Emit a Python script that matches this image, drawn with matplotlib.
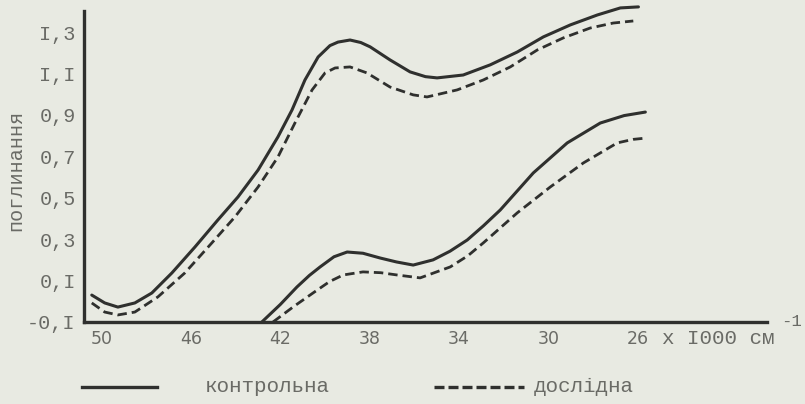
"""Absorption spectra: control vs experimental samples (typewritten figure)."""

import matplotlib
matplotlib.use("Agg")
import matplotlib.pyplot as plt
from matplotlib.lines import Line2D

# ---------------------------------------------------------------------------
# Data (wavenumber x1000 cm^-1, absorbance)
# ---------------------------------------------------------------------------

upper_ctrl_x = [50.45, 49.87, 49.28, 48.52, 47.76, 46.86, 45.83, 44.80, 43.90,
                43.00, 42.11, 41.48, 40.90, 40.31, 39.78, 39.42, 38.88, 38.40,
                37.98, 37.09, 36.19, 35.50, 34.98, 33.81, 32.60, 31.39, 30.22,
                29.01, 27.80, 26.77, 25.96]
upper_ctrl_y = [0.030, -0.008, -0.028, -0.008, 0.040, 0.137, 0.262, 0.393, 0.504,
                0.634, 0.794, 0.924, 1.069, 1.180, 1.235, 1.252, 1.262, 1.250,
                1.229, 1.166, 1.108, 1.085, 1.079, 1.093, 1.142, 1.204, 1.277,
                1.335, 1.383, 1.417, 1.422]

upper_exp_x = [50.45, 49.87, 49.28, 48.52, 47.49, 46.28, 45.07, 44.04, 43.00,
               42.11, 41.35, 40.58, 40.00, 39.55, 38.88, 38.12, 37.09, 36.05,
               35.43, 34.08, 32.91, 31.70, 30.49, 29.33, 28.12, 27.09, 26.19]
upper_exp_y = [-0.008, -0.052, -0.066, -0.052, 0.021, 0.137, 0.282, 0.407, 0.552,
               0.697, 0.861, 1.021, 1.103, 1.127, 1.132, 1.103, 1.035, 0.997,
               0.987, 1.021, 1.069, 1.132, 1.214, 1.272, 1.320, 1.344, 1.354]

lower_ctrl_x = [42.83, 42.0, 41.26, 40.7, 40.22, 39.6, 39.01, 38.3, 37.53, 36.8,
                36.05, 35.16, 34.4, 33.63, 32.9, 32.15, 30.67, 29.15, 27.67,
                26.6, 25.65]
lower_ctrl_y = [-0.100, -0.015, 0.069, 0.125, 0.166, 0.215, 0.238, 0.232, 0.209,
                0.190, 0.175, 0.200, 0.242, 0.296, 0.365, 0.441, 0.620, 0.765,
                0.861, 0.897, 0.914]

lower_exp_x = [42.33, 41.4, 40.54, 39.8, 39.19, 38.30, 37.5, 36.77, 35.74, 34.39,
               33.6, 32.91, 31.39, 29.91, 28.43, 26.91, 26.2, 25.56]
lower_exp_y = [-0.100, -0.025, 0.040, 0.095, 0.127, 0.142, 0.138, 0.127, 0.113,
               0.166, 0.220, 0.282, 0.427, 0.552, 0.668, 0.765, 0.782, 0.789]

x_ticks = [50, 46, 42, 38, 34, 30, 26]
x_tick_labels = ["50", "46", "42", "38", "34", "30", "26"]
y_ticks = [-0.1, 0.1, 0.3, 0.5, 0.7, 0.9, 1.1, 1.3]
y_tick_labels = ["-0,I", "0,I", "0,3", "0,5", "0,7", "0,9", "I,I", "I,3"]

# ---------------------------------------------------------------------------
# Style
# ---------------------------------------------------------------------------

PAPER = "#e8eae2"
INK = "#2f302e"
TEXT = "#6a6b66"
MONO = ["Liberation Mono", "DejaVu Sans Mono"]
DASH = (3.4, 1.8)

fig = plt.figure(figsize=(8.05, 4.04), dpi=100)
fig.patch.set_facecolor(PAPER)
ax = fig.add_axes([0.1043, 0.2030, 0.8485, 0.7943])
ax.set_facecolor(PAPER)

for xs, ys in [(upper_ctrl_x, upper_ctrl_y), (lower_ctrl_x, lower_ctrl_y)]:
    ax.plot(xs, ys, color=INK, lw=2.2, solid_capstyle="round",
            solid_joinstyle="round")
for xs, ys in [(upper_exp_x, upper_exp_y), (lower_exp_x, lower_exp_y)]:
    ax.plot(xs, ys, color=INK, lw=2.0, dashes=DASH, dash_capstyle="butt")

ax.set_xlim(50.8, 20.2)
ax.set_ylim(-0.1, 1.45)

for s in ["top", "right"]:
    ax.spines[s].set_visible(False)
ax.spines["left"].set_linewidth(2.4)
ax.spines["bottom"].set_linewidth(2.4)
ax.spines["left"].set_color(INK)
ax.spines["bottom"].set_color(INK)
ax.spines["left"].set_bounds(-0.1, 1.40)

ax.set_xticks(x_ticks)
ax.set_xticklabels(x_tick_labels, fontsize=12.5, color=TEXT,
                   family=["DejaVu Sans"])
ax.set_yticks(y_ticks)
ax.set_yticklabels(y_tick_labels, fontsize=14.5, color=TEXT, family=MONO)
ax.tick_params(axis="both", length=0)
ax.tick_params(axis="x", pad=6)
ax.tick_params(axis="y", pad=6)

# unit label after the last tick
fig.text(662 / 805, 1 - 339 / 404, "x I000 см", fontsize=15, color=TEXT,
         family=MONO, ha="left", va="center")
fig.text(781 / 805, 1 - 322 / 404, "-1", fontsize=12.5, color=TEXT,
         family=MONO, ha="left", va="center")

fig.text(16 / 805, 1 - 170 / 404, "поглинання", rotation=90, fontsize=14.5,
         color=TEXT, family=MONO, ha="center", va="center")

# legend drawn by hand below the axis
ly = 1 - 387 / 404
fig.add_artist(Line2D([82 / 805, 157 / 805], [ly, ly], color=INK, lw=2.4))
fig.add_artist(Line2D([434 / 805, 524 / 805], [ly, ly], color=INK, lw=2.4,
                      dashes=(3.0, 1.2)))
fig.text(205 / 805, ly, "контрольна", fontsize=15, color=TEXT, family=MONO,
         ha="left", va="center")
fig.text(534 / 805, ly, "дослідна", fontsize=15, color=TEXT, family=MONO,
         ha="left", va="center")

fig.savefig("out.png", dpi=100, facecolor=fig.get_facecolor())
